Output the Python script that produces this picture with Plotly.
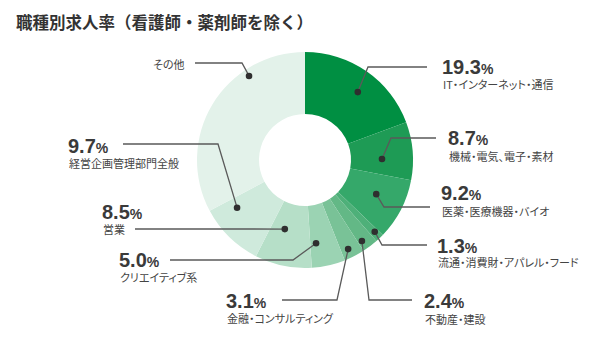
import math
import plotly.graph_objects as go

# ---------------- data ----------------
categories = ["IT・インターネット・通信", "機械・電気、電子・素材", "医薬・医療機器・バイオ",
              "流通・消費財・アパレル・フード", "不動産・建設", "金融・コンサルティング",
              "クリエイティブ系", "営業", "経営企画管理部門全般", "その他"]
values = [19.3, 8.7, 9.2, 1.3, 2.4, 3.1, 5.0, 8.5, 9.7, 32.8]
colors = ["#008f42", "#1e9b55", "#35a86a", "#4eb079", "#63b886", "#79c297",
          "#9bd3b3", "#b6dfc8", "#cfeadc", "#e3f2ea"]
title_text = "職種別求人率（看護師・薬剤師を除く）"

W, H = 600, 340
CX, CY, R = 305, 160, 108

# leader layout (pixel space): dot position inside slice (fraction, radius), elbow, end, label
leader = [
    # frac, r, elbow, end, label x, num y, sub y, anchor
    (0.545, 86, (368, 67), (427, 67), 440, 67, 84, "left"),
    (0.633, 77, (391, 138), (436, 138), 446, 138, 156, "left"),
    (0.447, 79, (384, 207), (430, 207), 439, 193, 211, "left"),
    (0.40, 100, (382, 245), (427, 245), 435, 246, 262, "left"),
    (0.73, 99, (369, 300), (412, 300), 422, 301, 319, "left"),
    (0.62, 99, (337, 300), (282, 300), 224, 301, 318, "left"),
    (0.78, 84, (293, 260), (170, 260), 117, 260, 277, "left"),
    (0.65, 72, (250, 229), (135, 229), 100, 212, 229, "left"),
    (0.80, 83, (218, 144), (123, 144), 66, 146, 163, "left"),
    (0.715, 101, (242, 63), (195, 63), 187, None, 64, "right"),
]

def px(x):
    return x / W

def py(y):
    return 1 - y / H

fig = go.Figure(go.Pie(
    values=values, labels=categories, sort=False, direction="clockwise", rotation=0,
    hole=0.426, marker=dict(colors=colors, line=dict(width=0)),
    textinfo="none", hoverinfo="label+value", showlegend=False,
    domain=dict(x=[px(CX - R), px(CX + R)], y=[py(CY + R), py(CY - R)]),
))

shapes = []
annotations = []
total = sum(values)
start = 0.0
num_font = "Liberation Sans, Arial, sans-serif"
jp_font = "Noto Sans CJK JP, sans-serif"
for i, v in enumerate(values):
    span = v / total * 360
    frac, r, elbow, end, lx, ny, sy, anchor = leader[i]
    ang = math.radians(start + frac * span)
    dx = CX + r * math.sin(ang)
    dy = CY - r * math.cos(ang)
    start += span
    shapes.append(dict(type="path", xref="paper", yref="paper",
                       path=f"M {px(dx)},{py(dy)} L {px(elbow[0])},{py(elbow[1])} L {px(end[0])},{py(end[1])}",
                       line=dict(color="#5a5a5a", width=1.3)))
    rd = 3.3
    shapes.append(dict(type="circle", xref="paper", yref="paper",
                       x0=px(dx - rd), x1=px(dx + rd), y0=py(dy + rd), y1=py(dy - rd),
                       fillcolor="#2f2f2f", line=dict(width=0)))
    if ny is not None:
        annotations.append(dict(
            x=px(lx), y=py(ny), xref="paper", yref="paper", xanchor=anchor, yanchor="middle",
            showarrow=False,
            text=f"<b>{v:.1f}</b><span style='font-size:14px'><b>%</b></span>",
            font=dict(family=num_font, size=20, color="#3a3a3a")))
    annotations.append(dict(
        x=px(lx if ny is None else lx + 1), y=py(sy), xref="paper", yref="paper",
        xanchor=anchor, yanchor="middle", showarrow=False,
        text=f"<span style=\"font-feature-settings:'palt'\">{categories[i]}</span>",
        font=dict(family=jp_font, size=11, color="#444444")))

annotations.append(dict(x=px(14), y=py(22), xref="paper", yref="paper", xanchor="left",
                        yanchor="middle", showarrow=False, text=f"<b>{title_text}</b>",
                        font=dict(family=jp_font, size=16.5, color="#333333")))

fig.update_layout(width=W, height=H, margin=dict(l=0, r=0, t=0, b=0),
                  paper_bgcolor="white", plot_bgcolor="white",
                  shapes=shapes, annotations=annotations)
fig.write_html("out.html")
